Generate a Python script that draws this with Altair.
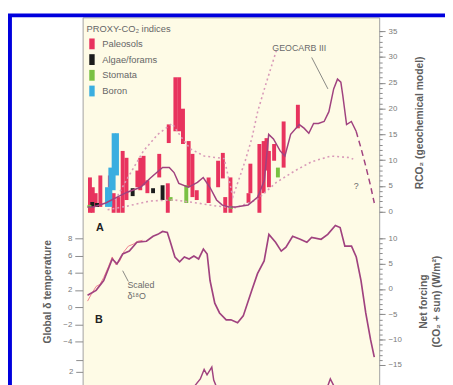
import altair as alt
import pandas as pd

FONT = "Liberation Sans"
PURPLE = "#a0427f"
BOUND = "#d99ab8"

# ---------------- Panel A : proxy CO2 indices (age Ma, RCO2 low, RCO2 high)
pal_age = [5.0, 10.9, 16.9, 26.8, 46.7, 54.6, 64.6, 73.5, 81.5, 104.3, 110.3, 117.2, 125.2, 150.0,
           169.9, 167.9, 183.8, 191.7, 199.7, 211.6, 219.5, 228.5, 253.3, 273.2, 283.1, 288.1,
           299.0, 336.8, 340.7, 359.6, 368.5, 374.5, 379.5, 390.4, 410.3, 440.1]
pal_lo = [-0.19, -0.19, 0.95, 0.95, 4.76, -0.19, -0.19, -0.19, 2.28, 4.76, 4.18, 5.14, 3.61, 6.66,
          13.32, -0.19, 15.6, 15.6, 13.13, 4.76, 2.85, 2.28, 1.71, 4.76, 6.47, -0.19,
          -0.19, 1.71, 3.61, -0.19, 3.61, 7.99, 4.76, 9.89, 8.56, 16.17]
pal_hi = [6.66, 4.76, 3.61, 7.04, 7.04, 3.61, 2.85, 11.79, 10.46, 7.99, 10.46, 10.84, 6.09, 11.22,
          16.93, 5.52, 26.06, 26.06, 19.97, 13.7, 11.22, 4.18, 6.66, 9.89, 11.41, 2.85,
          6.66, 3.61, 9.32, 13.13, 13.7, 14.27, 11.79, 13.13, 17.5, 20.73]

alg_age = [9.9, 19.9, 94.4, 137.1, 157.0]
alg_lo = [0.95, 0.95, 3.04, 3.61, 2.28]
alg_hi = [1.9, 1.71, 4.57, 4.57, 5.14]

sto_age = [4.0, 173.8, 206.6, 300.0, 398.3]
sto_lo = [0.76, 2.09, 1.71, 0.57, 6.66]
sto_hi = [1.33, 2.85, 5.14, 1.14, 8.56]

bor_age = [40.7, 47.7, 54.6, 61.6]
bor_lo = [0.95, 0.95, 4.18, 7.04]
bor_hi = [4.76, 8.56, 15.22, 15.22]

proxy_types = ["Paleosols", "Algae/forams", "Stomata", "Boron"]
proxy_colors = ["#e8335e", "#1c1c1c", "#79c143", "#3aaee0"]

# GEOCARB III (RCO2)
geo_age = [0, 12, 38, 62, 83, 111, 131, 157, 171, 181, 191, 211, 230, 242, 256, 270, 282, 296, 310,
           336, 356, 370, 379, 389, 403, 413, 425, 443, 453, 463, 473, 483, 495, 505, 515, 523,
           530, 534, 542, 552, 562]
geo_val = [0.95, 0.95, 1.7, 2.85, 3.8, 4.75, 6.5, 8.6, 8.6, 7.6, 5.5, 4.75, 5.7, 6.65, 4.75, 2.3,
           1.3, 0.95, 0.95, 1.3, 2.85, 6.1, 15.0, 14.1, 11.8, 10.8, 15.0, 16.9, 16.2, 15.2, 17.1,
           17.1, 17.5, 19.4, 23.8, 25.7, 25.1, 22.6, 16.9, 17.5, 15.6]
tail_age = [562, 572, 582, 592, 600]
tail_val = [15.6, 12.4, 8.9, 5.1, 1.7]

up_age = [58, 81, 117, 147, 177, 195, 215, 244, 286, 304, 316, 330, 344, 356, 370, 395]
up_val = [2.3, 6.1, 11.8, 15.0, 17.1, 14.6, 12.2, 10.8, 10.3, 2.9, 6.1, 9.9, 14.3, 19.4, 23.8, 31.2]
lo_age = [42, 83, 131, 181, 230, 270, 310, 354, 395, 435, 469, 509, 548, 556]
lo_val = [0.4, 1.1, 2.1, 2.3, 1.7, 1.1, 0.8, 2.3, 5.7, 8.0, 9.7, 10.8, 10.5, 10.2]

# ---------------- Panel B
frc_age = [0, 17.9, 33.8, 51.7, 61.6, 73.5, 87.4, 103.3, 123.2, 137.1, 147.0, 157.0, 166.9, 172.8,
           182.8, 192.7, 202.6, 212.6, 222.5, 232.4, 242.4, 250.3, 256.3, 266.2, 276.2, 290.1,
           300.0, 313.9, 325.8, 343.7, 355.6, 369.5, 379.5, 393.4, 405.3, 415.2, 429.1, 445.0,
           458.9, 468.9, 488.7, 502.6, 518.5, 528.5, 538.4, 552.3, 562.3, 572.2, 582.1, 592.1, 600]
frc_val = [-1.24, -0.27, 1.67, 5.93, 4.96, 6.9, 7.48, 9.22, 9.42, 10.39, 10.78, 11.36, 11.16, 9.42,
           6.32, 5.35, 6.32, 5.93, 6.51, 5.93, 7.87, 6.9, 1.67, -2.79, -4.73, -6.09,
           -6.09, -6.67, -5.31, -0.27, 3.02, 5.54, 10.78, 9.22, 7.48, 8.26, 10.39, 9.81,
           9.22, 10.19, 9.81, 10.78, 12.52, 12.13, 8.45, 8.45, 6.32, 1.67, -4.73, -9.96, -13.45]

d18_age = [0, 7.9, 17.9, 25.8, 33.8, 43.7, 51.7, 59.6, 67.5, 75.5, 85.4, 95.4, 105.3, 115.2]
d18_val = [0.69, 1.49, 2.4, 2.63, 3.43, 4.69, 5.83, 4.91, 5.37, 6.4, 7.09, 7.31, 7.66, 7.77]

# ---------------- Panel C (top of it only)
c_age = [0, 100, 180, 210, 226, 236, 244, 250, 260, 264, 274, 300, 400, 480, 498, 508, 518, 540, 600]
c_val = [-3, -2.5, -2, -0.1, 0.9, 1.4, 2.2, 1.75, 2.4, 1.3, 0.3, -1, -1.5, -1, 0.3, 1.4, 0.6, -1, -3]

# ---------------- helpers
X = alt.X("age:Q", scale=alt.Scale(domain=[0, 600], nice=False, zero=False), axis=None)


def sA():
    return alt.Scale(domain=[0, 35], range=[198, 14], nice=False, zero=False)


def sT():
    return alt.Scale(domain=[-4, 8], range=[330, 225], nice=False, zero=False)


def sF():
    return alt.Scale(domain=[-15, 10], range=[354, 225], nice=False, zero=False)


def sC():
    return alt.Scale(domain=[-4, 3], range=[433, 349], nice=False, zero=False)


def df(a, v):
    return pd.DataFrame({"age": a, "v": v})


rows = []
for t, a, lo, hi in [("Paleosols", pal_age, pal_lo, pal_hi), ("Algae/forams", alg_age, alg_lo, alg_hi),
                     ("Stomata", sto_age, sto_lo, sto_hi), ("Boron", bor_age, bor_lo, bor_hi)]:
    for i in range(len(a)):
        rows.append({"type": t, "age": a[i], "lo": lo[i], "hi": hi[i], "ord": proxy_types.index(t)})
proxy = pd.DataFrame(rows)

axis_common = dict(grid=False, domain=False, tickColor="#8a8a8a", labelColor="#7a7a7a",
                   labelFontSize=8, labelFont=FONT, titleFont=FONT, titleColor="#5e5e5e",
                   titleFontWeight="bold", titleFontSize=10.5)

bars = alt.Chart(proxy).mark_bar(size=4).encode(
    x=X,
    y=alt.Y("lo:Q", scale=sA(), axis=alt.Axis(
        orient="right", values=list(range(0, 36, 5)), tickSize=6, labelPadding=3,
        title="RCO₂ (geochemical model)", titleAngle=270, titleX=41, titleY=107,
        titleAlign="center", titleBaseline="middle", **axis_common)),
    y2="hi:Q",
    color=alt.Color("type:N", scale=alt.Scale(domain=proxy_types, range=proxy_colors),
                    legend=alt.Legend(title="PROXY-CO₂ indices", orient="none", legendX=4, legendY=7,
                                      symbolType="M-0.5,-1H0.5V1H-0.5Z", symbolSize=121,
                                      symbolStrokeWidth=0, labelFontSize=9.5, labelColor="#666666",
                                      labelFont=FONT, titleFont=FONT, titleFontSize=9.5,
                                      titleFontWeight="normal", titleColor="#666666",
                                      rowPadding=5, labelOffset=5, titlePadding=5, padding=0)),
    order=alt.Order("ord:Q"),
)

upper = alt.Chart(df(up_age, up_val)).mark_line(color=BOUND, strokeWidth=1.6, strokeDash=[2, 3]).encode(
    x=X, y=alt.Y("v:Q", scale=sA(), axis=alt.Axis(
        orient="right", values=list(range(0, 36)), tickSize=3, labels=False, title=None, **axis_common)))
lower = alt.Chart(df(lo_age, lo_val)).mark_line(color=BOUND, strokeWidth=1.6, strokeDash=[2, 3]).encode(
    x=X, y=alt.Y("v:Q", scale=sA(), axis=None))
geo = alt.Chart(df(geo_age, geo_val)).mark_line(color=PURPLE, strokeWidth=1.5).encode(
    x=X, y=alt.Y("v:Q", scale=sA(), axis=None))
tail = alt.Chart(df(tail_age, tail_val)).mark_line(color=PURPLE, strokeWidth=1.5, strokeDash=[6, 4]).encode(
    x=X, y=alt.Y("v:Q", scale=sA(), axis=None))

d18 = alt.Chart(df(d18_age, d18_val)).mark_line(color="#f0808c", strokeWidth=1).encode(
    x=X, y=alt.Y("v:Q", scale=sT(), axis=alt.Axis(
        orient="left", values=list(range(-4, 9, 2)), tickSize=8, labelPadding=3,
        title="Global δ temperature", titleAngle=270, titleX=-36, titleY=279,
        titleAlign="center", titleBaseline="middle", **axis_common)))
frc = alt.Chart(df(frc_age, frc_val)).mark_line(color=PURPLE, strokeWidth=1.7).encode(
    x=X, y=alt.Y("v:Q", scale=sF(), axis=alt.Axis(
        orient="right", values=list(range(-15, 11, 5)), tickSize=6, labelPadding=3,
        title=["Net forcing", "(CO₂ + sun) (W/m²)"], titleAngle=270, titleX=45, titleY=289,
        titleAlign="center", titleBaseline="middle", titleLineHeight=13, **axis_common)))
frc_minor = alt.Chart(df(frc_age, frc_val)).mark_line(strokeOpacity=0).encode(
    x=X, y=alt.Y("v:Q", scale=sF(), axis=alt.Axis(
        orient="right", values=list(range(-15, 11)), tickSize=3, labels=False, title=None, **axis_common)))

cline = alt.Chart(df(c_age, c_val)).mark_line(color=PURPLE, strokeWidth=1.5).encode(
    x=X, y=alt.Y("v:Q", scale=sC(), axis=alt.Axis(
        orient="left", values=[2, 3], tickSize=7, labelPadding=3,
        labelExpr="datum.value == 3 ? '' : datum.label", title=None, **axis_common)))

# annotations
txtA = alt.Chart(pd.DataFrame({"age": [443, 562], "v": [31.8, 4.95], "t": ["GEOCARB III", "?"]})).mark_text(
    font=FONT, fontSize=9, color="#6a6a6a", align="center", baseline="middle").encode(
    x=X, y=alt.Y("v:Q", scale=sA(), axis=None), text="t:N")
leadA = alt.Chart(pd.DataFrame({"age": [469], "age2": [503], "v": [29.9], "v2": [23.8]})).mark_rule(
    color="#6a6a6a", strokeWidth=0.8).encode(
    x=X, x2="age2:Q", y=alt.Y("v:Q", scale=sA(), axis=None), y2="v2:Q")
labA = alt.Chart(pd.DataFrame({"age": [25.8], "v": [-3.2], "t": ["A"]})).mark_text(
    font=FONT, fontSize=11, fontWeight="bold", color="#222222", align="center", baseline="middle").encode(
    x=X, y=alt.Y("v:Q", scale=sA(), axis=None), text="t:N")
labB = alt.Chart(pd.DataFrame({"age": [23.8], "v": [-1.49], "t": ["B"]})).mark_text(
    font=FONT, fontSize=11, fontWeight="bold", color="#222222", align="center", baseline="middle").encode(
    x=X, y=alt.Y("v:Q", scale=sT(), axis=None), text="t:N")
txtB = alt.Chart(pd.DataFrame({"age": [83.4, 83.4], "v": [2.51, 1.26], "t": ["Scaled", "δ¹⁸O"]})).mark_text(
    font=FONT, fontSize=9, color="#6a6a6a", align="left", baseline="middle").encode(
    x=X, y=alt.Y("v:Q", scale=sT(), axis=None), text="t:N")
leadB = alt.Chart(pd.DataFrame({"age": [73.5], "age2": [85.4], "v": [4.23], "v2": [2.97]})).mark_rule(
    color="#6a6a6a", strokeWidth=0.8).encode(
    x=X, x2="age2:Q", y=alt.Y("v:Q", scale=sT(), axis=None), y2="v2:Q")

frame = alt.Chart(pd.DataFrame({"k": [0]})).mark_rect(
    fillOpacity=0, stroke="#0000dd", strokeWidth=4).encode(
    x=alt.value(-74), x2=alt.value(700), y=alt.value(-2), y2=alt.value(700))

chart = alt.layer(
    bars, upper, lower, geo, tail, d18, frc, frc_minor, cline,
    txtA, leadA, labA, labB, txtB, leadB, frame
).resolve_scale(y="independent").properties(
    width=302, height=380,
    padding={"left": 76, "top": 6, "right": 67, "bottom": 0},
    autosize=alt.AutoSizeParams(type="none"),
    background="white",
).configure_view(fill="#fefbe6", stroke="#a0a0a0", strokeWidth=1)

chart.save("out.html", embed_options={"renderer": "svg", "actions": False})
